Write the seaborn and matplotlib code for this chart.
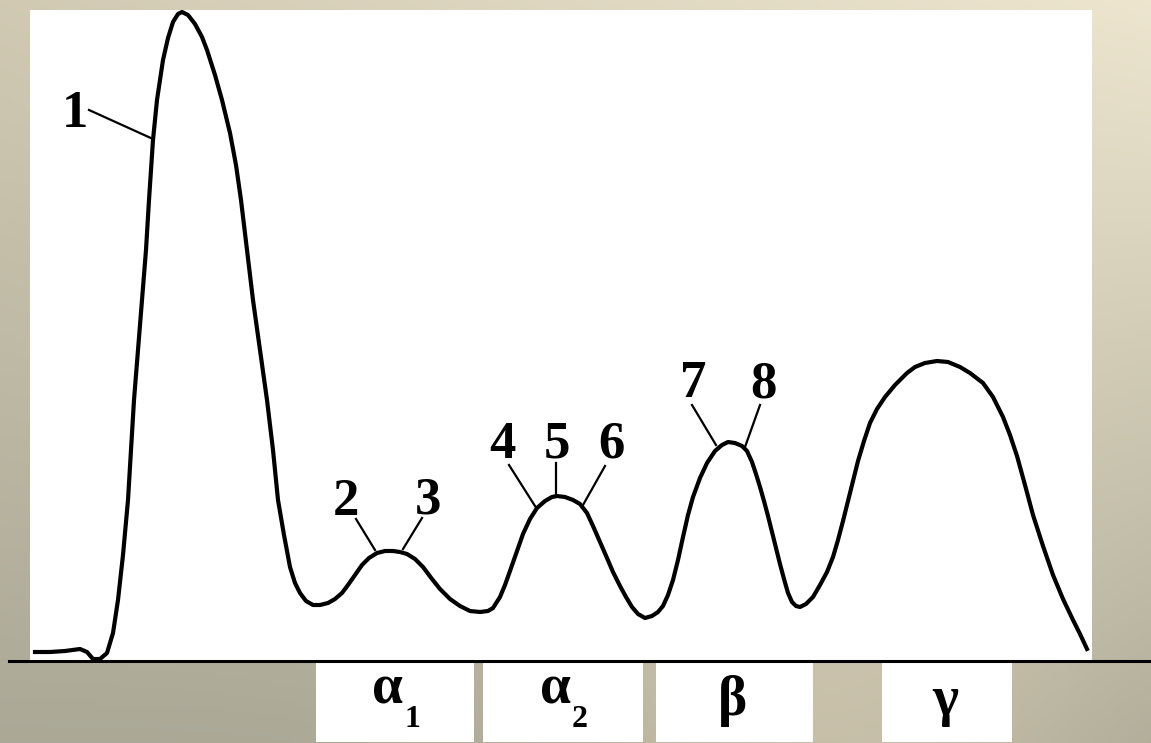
import numpy as np
import matplotlib
matplotlib.use("Agg")
import matplotlib.pyplot as plt
import seaborn as sns
import pandas as pd
from matplotlib.patches import Rectangle

# ---- data: densitogram of serum protein electrophoresis (mobility vs optical density)
mobility = [35, 50, 65, 80, 87, 93, 100, 107, 113, 118, 123, 128, 131, 134, 138, 142, 146, 149, 151, 153,
            157, 163, 168, 173, 178, 182, 188, 195, 202, 207, 215, 222, 230, 236, 241, 247, 253, 260, 267, 273,
            278, 284, 290, 295, 300, 306, 313, 320, 328, 335, 342, 348, 355, 362, 369, 377, 385, 393, 400, 407,
            415, 423, 432, 440, 450, 460, 470, 480, 488, 493, 500, 505, 510, 517, 523, 530, 537, 545, 552, 557,
            565, 573, 580, 587, 593, 600, 607, 613, 620, 626, 632, 638, 645, 652, 658, 663, 668, 673, 678, 683,
            688, 693, 700, 707, 715, 722, 728, 735, 742, 747, 752, 756, 760, 764, 768, 772, 776, 780, 784, 788,
            792, 796, 800, 806, 813, 820, 827, 833, 838, 843, 848, 853, 858, 864, 870, 877, 885, 895, 907, 915,
            925, 937, 948, 960, 970, 983, 993, 1003, 1010, 1017, 1025, 1033, 1043, 1053, 1063, 1073, 1080, 1087]
density = [9, 9, 10, 12, 9, 2, 2, 8, 28, 61, 106, 161, 211, 261, 311, 361, 411, 461, 491, 521,
           561, 601, 623, 639, 647, 649, 646, 637, 624, 611, 586, 561, 528, 496, 461, 411, 361, 311, 261, 211,
           161, 126, 94, 78, 68, 60, 56, 56, 58, 62, 68, 76, 86, 96, 103, 108, 110, 110, 109, 107,
           102, 94, 82, 72, 62, 55, 50, 49, 50, 53, 64, 76, 90, 110, 127, 142, 153, 160, 164, 165,
           164, 161, 157, 148, 135, 119, 103, 89, 75, 64, 54, 47, 43, 45, 49, 55, 66, 81, 101, 124,
           146, 164, 183, 198, 210, 216, 219, 218, 215, 210, 199, 187, 174, 160, 145, 129, 113, 97, 82, 68,
           59, 55, 54, 57, 64, 76, 89, 104, 121, 140, 160, 180, 200, 220, 238, 252, 264, 276, 288, 294,
           298, 300, 299, 294, 288, 278, 264, 244, 226, 205, 176, 146, 115, 86, 62, 41, 27, 12]

fraction_labels = ["α", "α", "β", "γ"]
fraction_subs = ["1", "2", "", ""]
fraction_spans = [(316, 474), (483, 643), (656, 813), (882, 1012)]

peak_labels = ["1", "2", "3", "4", "5", "6", "7", "8"]
peak_text_xy = [(75, 534), (346, 146), (428, 148), (502, 203), (557, 203), (611, 203), (693, 264), (763, 264)]
peak_lead_from = [(89, 551), (356, 142), (422, 143), (509, 196), (556, 198), (605, 195), (692, 256), (760, 256)]
peak_lead_to = [(153, 522), (375, 111), (403, 112), (535, 155), (556, 167), (583, 156), (716, 216), (745, 214)]

W, H = 1151, 743
fig = plt.figure(figsize=(W / 100, H / 100), dpi=100)
ax = fig.add_axes([0, 0, 1, 1])
ax.set_xlim(0, W)
ax.set_ylim(661 - H, 661)
ax.axis("off")

# background beige gradient
gx = np.linspace(0, 1, 300)
gy = np.linspace(0, 1, 200)
X, Y = np.meshgrid(gx, gy)
top = np.array([0.82, 0.79, 0.70])
topr = np.array([0.93, 0.90, 0.81])
bot = np.array([0.67, 0.66, 0.59])
botm = np.array([0.78, 0.75, 0.66])
bump = np.exp(-((X - 0.72) / 0.25) ** 2)[..., None]
c_top = top + (topr - top) * X[..., None]
c_bot = bot + (botm - bot) * bump
img = c_top * (1 - Y[..., None]) + c_bot * Y[..., None]
ax.imshow(img, extent=(0, W, 661 - H, 661), aspect="auto", origin="upper", zorder=0)

# white plot field
ax.add_patch(Rectangle((30, 0), 1092 - 30, 661 - 10, facecolor="white", edgecolor="none", zorder=1))
# baseline axis
ax.plot([9, W], [0, 0], color="black", lw=2.2, zorder=3)

# fraction boxes
serif = ["Liberation Serif", "DejaVu Serif"]
for lab, sub, (x0, x1) in zip(fraction_labels, fraction_subs, fraction_spans):
    ax.add_patch(Rectangle((x0, -81), x1 - x0, 79, facecolor="white", edgecolor="none", zorder=1))
    cx = (x0 + x1) / 2
    if sub:
        ax.text(cx - 7, -42, lab, fontsize=40, fontweight="bold", family=serif,
                ha="center", va="baseline", zorder=4)
        ax.text(cx + 17, -66, sub, fontsize=23, fontweight="bold", family=serif,
                ha="center", va="baseline", zorder=4)
    else:
        ax.text(cx - 2, -54, lab, fontsize=40, fontweight="bold", family=serif,
                ha="center", va="baseline", zorder=4)

# curve
df = pd.DataFrame({"mobility": mobility, "density": density})
sns.lineplot(data=df, x="mobility", y="density", sort=False, color="black", lw=3.0, ax=ax, zorder=5)

# peak annotations
for lab, (tx, ty), (fx, fy), (lx, ly) in zip(peak_labels, peak_text_xy, peak_lead_from, peak_lead_to):
    ax.text(tx, ty, lab, fontsize=38, fontweight="bold", family=serif,
            ha="center", va="baseline", zorder=6)
    ax.plot([fx, lx], [fy, ly], color="black", lw=1.6, zorder=5)

ax.set_xlim(0, W)
ax.set_ylim(661 - H, 661)
ax.axis("off")
fig.savefig("out.png", dpi=100)
